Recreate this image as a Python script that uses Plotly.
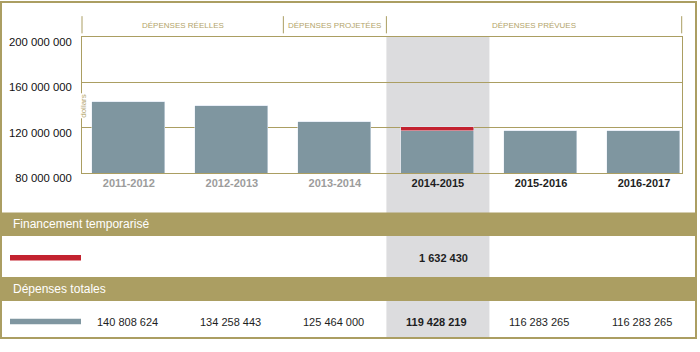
import plotly.graph_objects as go

# ---------------- data ----------------
categories = ["2011-2012", "2012-2013", "2013-2014", "2014-2015", "2015-2016", "2016-2017"]
# bar heights as drawn in the chart (dollars)
spending_bars = [143.0e6, 139.0e6, 124.8e6, 116.9e6, 116.9e6, 116.9e6]
temporary_bars = [0, 0, 0, 4.2e6, 0, 0]
# table values (text)
temporary_labels = ["", "", "", "1 632 430", "", ""]
total_labels = ["140 808 624", "134 258 443", "125 464 000", "119 428 219", "116 283 265", "116 283 265"]
label_is_past = [True, True, True, False, False, False]
highlight_index = 3
y_tick_vals = [80e6, 120e6, 160e6, 200e6]
y_tick_text = ["80 000 000", "120 000 000", "160 000 000", "200 000 000"]
groups = [("DÉPENSES RÉELLES", -0.5, 1.5), ("DÉPENSES PROJETÉES", 1.5, 2.5), ("DÉPENSES PRÉVUES", 2.5, 5.5)]
row_titles = ["Financement temporarisé", "Dépenses totales"]

# ---------------- style ----------------
W, H = 700, 352
GOLD = "#ab9e62"
GOLD_TXT = "#b3a46a"
BAR = "#7f96a0"
RED = "#c3222f"
HIGHLIGHT = "#dcdcde"
FONT = "Liberation Sans, Arial, sans-serif"

X0, X1 = -0.4542, 5.366          # x-axis range
PX_L, PX_R = 82.0, 681.7         # plot area horizontal pixels
PY_T, PY_B = 37.3, 178.3         # plot area vertical pixels


def fx(px):
    return px / W


def fy(py):
    return 1 - py / H


def x_to_px(v):
    return PX_L + (v - X0) / (X1 - X0) * (PX_R - PX_L)


fig = go.Figure()
fig.add_trace(go.Bar(x=list(range(len(categories))), y=spending_bars, marker_color=BAR,
                     width=0.7085, hoverinfo="skip"))
fig.add_trace(go.Bar(x=list(range(len(categories))), y=temporary_bars, marker_color=RED,
                     width=0.7085, hoverinfo="skip"))

shapes = []
annotations = []

# highlight column (below everything)
hx0 = x_to_px(highlight_index - 0.5)
hx1 = x_to_px(highlight_index + 0.5)
shapes.append(dict(type="rect", xref="paper", yref="paper", x0=fx(hx0), x1=fx(hx1),
                   y0=fy(348), y1=fy(PY_T), fillcolor=HIGHLIGHT, line_width=0, layer="below"))

# table gold bands
band_rows = [(219, 243.3), (285.7, 310.7)]
for (t, b), title in zip(band_rows, row_titles):
    shapes.append(dict(type="rect", xref="paper", yref="paper", x0=0, x1=fx(697),
                       y0=fy(b), y1=fy(t), fillcolor=GOLD, line_width=0, layer="below"))
    annotations.append(dict(text=title, xref="paper", yref="paper", x=fx(11), y=fy((t + b) / 2),
                            xanchor="left", yanchor="middle", showarrow=False,
                            font=dict(family=FONT, size=12, color="white")))

# outer frame
shapes.append(dict(type="rect", xref="paper", yref="paper", x0=fx(1), x1=fx(696),
                   y0=fy(349), y1=fy(1), line=dict(color=GOLD, width=2), fillcolor="rgba(0,0,0,0)",
                   layer="above"))

# legend swatches in table
shapes.append(dict(type="line", xref="paper", yref="paper", x0=fx(10), x1=fx(81),
                   y0=fy(265.7), y1=fy(265.7), line=dict(color=RED, width=5.5)))
shapes.append(dict(type="line", xref="paper", yref="paper", x0=fx(10), x1=fx(81),
                   y0=fy(331.7), y1=fy(331.7), line=dict(color=BAR, width=5.5)))

# header separators and titles
seps = sorted(set([max(g[1], X0) for g in groups] + [min(g[2], X1) for g in groups]))
for s in seps:
    px = x_to_px(s)
    shapes.append(dict(type="line", xref="paper", yref="paper", x0=fx(px), x1=fx(px),
                       y0=fy(33.5), y1=fy(15.7), line=dict(color=GOLD, width=1)))
for name, a, b in groups:
    c = (max(a, X0) + min(b, X1)) / 2
    annotations.append(dict(text=name, xref="x", yref="paper", x=c, y=fy(25), xanchor="center",
                            yanchor="middle", showarrow=False,
                            font=dict(family=FONT, size=8, color=GOLD_TXT)))

# table values
for i, (tl, vl) in enumerate(zip(temporary_labels, total_labels)):
    bold = i == highlight_index
    if tl:
        annotations.append(dict(text=f"<b>{tl}</b>", xref="x", yref="paper", x=i, y=fy(266.3),
                                xanchor="center", yanchor="middle", showarrow=False, xshift=6,
                                font=dict(family=FONT, size=11, color="#1e1e1e")))
    annotations.append(dict(text=(f"<b>{vl}</b>" if bold else vl), xref="x", yref="paper", x=i,
                            y=fy(332.3), xanchor="center", yanchor="middle", showarrow=False,
                            xshift=-1.5,
                            font=dict(family=FONT, size=11, color="#1e1e1e")))

# "dollars" unit label
annotations.append(dict(text="dollars", xref="paper", yref="paper", x=fx(83.5), y=fy(109),
                        xanchor="center", yanchor="middle", textangle=-90, showarrow=False,
                        bgcolor="white", borderpad=0,
                        font=dict(family=FONT, size=8, color=GOLD_TXT)))

x_tick_text = [
    f'<span style="color:{"#9c9c9c" if past else "#1e1e1e"}"><b>{c}</b></span>'
    for c, past in zip(categories, label_is_past)
]

fig.update_layout(
    width=W, height=H, autosize=False,
    margin=dict(l=0, r=0, t=0, b=0, pad=0),
    paper_bgcolor="white", plot_bgcolor="rgba(0,0,0,0)",
    barmode="stack", bargap=0, showlegend=False,
    shapes=shapes, annotations=annotations,
    font=dict(family=FONT),
    xaxis=dict(domain=[fx(PX_L), fx(PX_R)], range=[X0, X1], tickvals=list(range(len(categories))),
               ticktext=x_tick_text, tickfont=dict(size=11, family=FONT), showgrid=False,
               zeroline=False, showline=True, linecolor=GOLD, linewidth=1, mirror=True,
               ticks="", ticklabelstandoff=0, fixedrange=True),
    yaxis=dict(domain=[fy(PY_B), fy(PY_T)], range=[80e6, 200e6], tickvals=y_tick_vals,
               ticktext=y_tick_text, tickfont=dict(size=11.3, family=FONT, color="#111"),
               showgrid=True, gridcolor=GOLD, gridwidth=1, zeroline=False,
               showline=True, linecolor=GOLD, linewidth=1, mirror=True,
               ticks="", ticklabelstandoff=7, ticklabelshift=5, fixedrange=True),
)

fig.write_html("out.html", post_script="document.body.style.margin='0';")
